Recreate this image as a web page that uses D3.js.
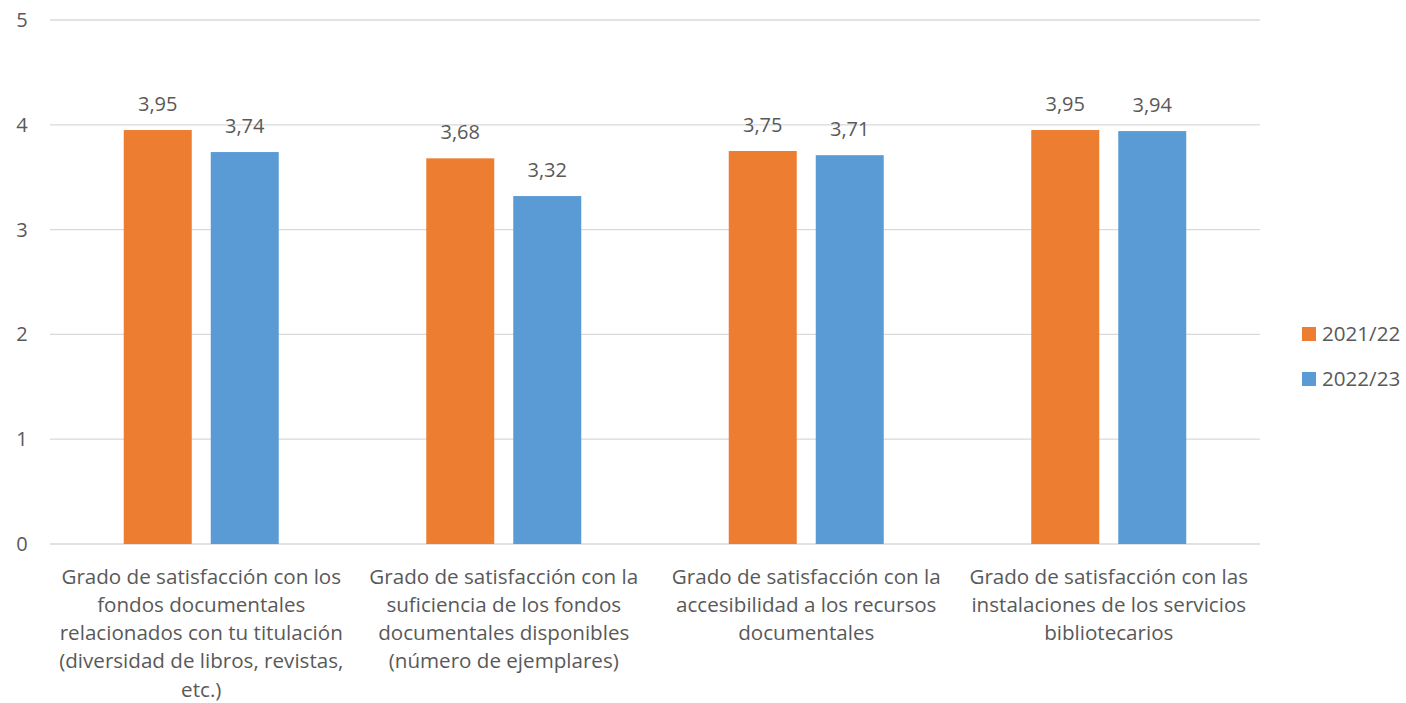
<!DOCTYPE html>
<html><head><meta charset="utf-8">
<script src="https://cdn.jsdelivr.net/npm/d3@7"></script>
<style>body{margin:0;background:#fff;} text{font-family:"Open Sans",Lato,sans-serif;fill:#595959;}</style>
</head><body>
<svg id="c" width="1406" height="703"></svg>
<script>
const categories = [
  ["Grado de satisfacción con los","fondos documentales","relacionados con tu titulación","(diversidad de libros, revistas,","etc.)"],
  ["Grado de satisfacción con la","suficiencia de los fondos","documentales disponibles","(número de ejemplares)"],
  ["Grado de satisfacción con la","accesibilidad a los recursos","documentales"],
  ["Grado de satisfacción con las","instalaciones de los servicios","bibliotecarios"]
];
const seriesNames = ["2021/22","2022/23"];
const values2021 = [3.95, 3.68, 3.75, 3.95];
const values2022 = [3.74, 3.32, 3.71, 3.94];
const colors = ["#ED7D31","#5B9BD5"];
const yTicks = [0,1,2,3,4,5];

(function(){
const svg = d3.select("#c");
const pL = 50, pR = 1260, pT = 20, pB = 544;
const fs = "20px", fsL = "20.6px";
const x0 = d3.scaleBand().domain(d3.range(categories.length)).range([pL,pR]).paddingInner(0).paddingOuter(0);
const y = d3.scaleLinear().domain([0,5]).range([pB,pT]);
const bw = 68, gap = 19;
const x1 = d3.scaleBand().domain([0,1]).range([0, 2*bw+gap]).paddingInner(gap/(bw+gap)).paddingOuter(0);
const groupOffset = (x0.bandwidth() - (2*bw+gap))/2;

svg.append("g").selectAll("line").data(yTicks).join("line")
  .attr("x1",pL).attr("x2",pR).attr("y1",d=>y(d)).attr("y2",d=>y(d))
  .attr("stroke","#D9D9D9").attr("stroke-width",1.3);
svg.append("g").selectAll("text").data(yTicks).join("text")
  .attr("x",22).attr("y",d=>y(d)).attr("dy","0.35em").attr("text-anchor","middle")
  .style("font-size",fs).text(d=>d);

const series = [values2021, values2022];
series.forEach((vals,si)=>{
  const g = svg.append("g");
  g.selectAll("rect").data(vals).join("rect")
    .attr("x",(d,i)=>x0(i)+groupOffset+x1(si)).attr("width",x1.bandwidth())
    .attr("y",d=>y(d)).attr("height",d=>y(0)-y(d)).attr("fill",colors[si]);
  g.selectAll("text").data(vals).join("text")
    .attr("x",(d,i)=>x0(i)+groupOffset+x1(si)+x1.bandwidth()/2)
    .attr("y",d=>y(d)-26).attr("dy","0.35em").attr("text-anchor","middle")
    .style("font-size",fs).text(d=>d.toFixed(2).replace(".",","));
});

const cl = svg.append("g");
categories.forEach((lines,i)=>{
  const t = cl.append("text").attr("text-anchor","middle").style("font-size",fsL);
  lines.forEach((ln,j)=>{
    t.append("tspan").attr("x",x0(i)+x0.bandwidth()/2).attr("y",576.5+j*28.2).attr("dy","0.35em").text(ln);
  });
});

const lg = svg.append("g");
seriesNames.forEach((n,i)=>{
  lg.append("rect").attr("x",1302).attr("y",327+i*45).attr("width",14).attr("height",14).attr("fill",colors[i]);
  lg.append("text").attr("x",1322).attr("y",334+i*45).attr("dy","0.35em").style("font-size",fsL).text(n);
});
})();
</script>
</body></html>
